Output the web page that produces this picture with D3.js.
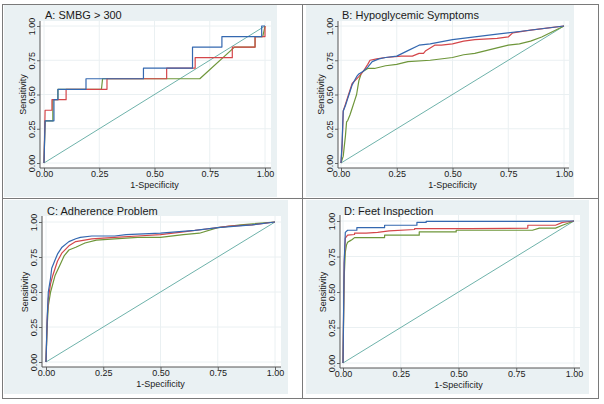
<!DOCTYPE html>
<html><head><meta charset="utf-8">
<script src="https://cdnjs.cloudflare.com/ajax/libs/d3/7.8.5/d3.min.js"></script>
<style>
html,body{margin:0;padding:0;background:#fff;}
svg{display:block;}
text{font-family:"Liberation Sans",Arial,Helvetica,sans-serif;fill:#1a1a1a;}
</style></head>
<body><svg id="c" width="604" height="404"></svg>
<script>
// ---------- DATA ----------
const tickValues = [0, 0.25, 0.5, 0.75, 1];
const titles = ["A: SMBG > 300", "B: Hypoglycemic Symptoms", "C: Adherence Problem", "D: Feet Inspection"];
const xAxisTitle = "1-Specificity";
const yAxisTitle = "Sensitivity";
const seriesNames = ["blue", "red", "green"];

// Panel A (step ROC curves: [1-specificity, sensitivity])
const aBlue = [[0,0],[0.005,0.308],[0.045,0.308],[0.045,0.462],[0.063,0.462],[0.063,0.538],[0.19,0.538],[0.19,0.615],[0.45,0.615],[0.45,0.692],[0.672,0.692],[0.672,0.846],[0.805,0.846],[0.805,0.923],[0.985,0.923],[0.985,1],[1,1]];
const aRed = [[0,0],[0.005,0.385],[0.036,0.385],[0.036,0.462],[0.10,0.462],[0.10,0.538],[0.285,0.538],[0.285,0.615],[0.555,0.615],[0.555,0.692],[0.684,0.692],[0.684,0.769],[0.852,0.769],[0.852,0.846],[0.955,0.846],[0.955,0.923],[1,0.923],[1,1]];
const aGreen = [[0,0],[0.005,0.308],[0.04,0.308],[0.04,0.462],[0.063,0.462],[0.063,0.538],[0.26,0.538],[0.265,0.615],[0.705,0.615],[0.862,0.846],[0.955,0.846],[0.955,0.923],[0.99,0.923],[1,1]];

// Panel B
const bBlue = [[0,0],[0.005,0.15],[0.01,0.38],[0.02,0.42],[0.03,0.47],[0.04,0.52],[0.05,0.57],[0.06,0.60],[0.07,0.63],[0.08,0.65],[0.10,0.67],[0.12,0.70],[0.14,0.74],[0.17,0.76],[0.20,0.77],[0.25,0.78],[0.30,0.82],[0.35,0.86],[0.40,0.87],[0.50,0.90],[0.60,0.92],[0.70,0.94],[0.80,0.96],[0.90,0.98],[1,1]];
const bRed = [[0,0],[0.005,0.12],[0.01,0.38],[0.02,0.43],[0.03,0.48],[0.05,0.58],[0.08,0.63],[0.10,0.67],[0.12,0.72],[0.13,0.75],[0.16,0.76],[0.20,0.77],[0.27,0.78],[0.32,0.78],[0.35,0.80],[0.37,0.80],[0.38,0.82],[0.40,0.84],[0.42,0.86],[0.45,0.86],[0.50,0.87],[0.55,0.89],[0.60,0.90],[0.70,0.91],[0.75,0.92],[0.77,0.95],[0.85,0.97],[0.95,0.99],[1,1]];
const bGreen = [[0,0],[0.01,0.05],[0.02,0.20],[0.025,0.30],[0.03,0.31],[0.04,0.35],[0.05,0.40],[0.06,0.45],[0.07,0.50],[0.075,0.55],[0.08,0.60],[0.09,0.65],[0.10,0.67],[0.12,0.69],[0.15,0.69],[0.20,0.71],[0.25,0.72],[0.30,0.74],[0.40,0.75],[0.50,0.77],[0.55,0.79],[0.60,0.80],[0.65,0.82],[0.70,0.84],[0.75,0.86],[0.80,0.87],[0.85,0.89],[0.90,0.92],[0.95,0.96],[1,1]];

// Panel C
const cBlue = [[0,0],[0.005,0.30],[0.01,0.50],[0.02,0.60],[0.025,0.67],[0.04,0.73],[0.05,0.77],[0.07,0.82],[0.10,0.86],[0.13,0.88],[0.15,0.89],[0.20,0.90],[0.30,0.90],[0.35,0.91],[0.50,0.92],[0.65,0.94],[0.75,0.96],[0.90,0.98],[1,1]];
const cRed = [[0,0],[0.005,0.30],[0.01,0.45],[0.02,0.56],[0.03,0.62],[0.05,0.72],[0.07,0.78],[0.10,0.83],[0.13,0.86],[0.20,0.88],[0.30,0.89],[0.40,0.90],[0.50,0.91],[0.60,0.93],[0.70,0.95],[0.80,0.97],[0.90,0.98],[1,1]];
const cGreen = [[0,0],[0.005,0.25],[0.01,0.40],[0.02,0.50],[0.03,0.56],[0.04,0.62],[0.06,0.69],[0.08,0.76],[0.10,0.80],[0.13,0.82],[0.17,0.85],[0.22,0.87],[0.30,0.88],[0.40,0.89],[0.50,0.89],[0.60,0.91],[0.67,0.92],[0.75,0.96],[0.85,0.98],[1,1]];

// Panel D
const dBlue = [[0,0],[0.005,0.70],[0.01,0.92],[0.02,0.935],[0.06,0.935],[0.06,0.953],[0.18,0.953],[0.18,0.97],[0.32,0.97],[0.32,0.99],[0.36,0.99],[0.36,0.998],[0.93,0.998],[0.95,1],[1,1]];
const dRed = [[0,0],[0.005,0.70],[0.01,0.88],[0.02,0.90],[0.05,0.905],[0.05,0.915],[0.10,0.915],[0.15,0.92],[0.20,0.93],[0.31,0.94],[0.31,0.946],[0.55,0.946],[0.80,0.95],[0.80,0.97],[0.92,0.97],[0.95,0.99],[1,1]];
const dGreen = [[0,0],[0.005,0.60],[0.01,0.78],[0.015,0.83],[0.02,0.85],[0.03,0.86],[0.04,0.87],[0.05,0.883],[0.18,0.883],[0.18,0.90],[0.33,0.90],[0.33,0.923],[0.49,0.923],[0.49,0.935],[0.82,0.935],[0.85,0.95],[0.92,0.95],[0.95,0.97],[1,1]];
const refLine = [[0,0],[1,1]];

// ---------- STYLE / LAYOUT ----------
const colors = {blue:"#3468b0", red:"#d4464a", green:"#6e963a", ref:"#5ea9a0"};
const layout = [
  {bg:[4,5,277,197], region:[40,21,271,168], xr:[44,265], yr:[163,26], titleY:19},
  {bg:[306,5,574,197], region:[338,21,569,168], xr:[341,564], yr:[163,26], titleY:19},
  {bg:[4,200,288,394], region:[42,216,281,367], xr:[46,275], yr:[362,222], titleY:215},
  {bg:[306,200,589,394], region:[340,215,580,368], xr:[343,574], yr:[363,221], titleY:215}
];
const panelData = [[aBlue,aRed,aGreen],[bBlue,bRed,bGreen],[cBlue,cRed,cGreen],[dBlue,dRed,dGreen]];

const svg = d3.select("#c");
svg.append("rect").attr("x",0).attr("y",0).attr("width",604).attr("height",404).attr("fill","#fff");

layout.forEach((L,i)=>{
  const g = svg.append("g");
  g.append("rect").attr("x",L.bg[0]).attr("y",L.bg[1]).attr("width",L.bg[2]-L.bg[0]).attr("height",L.bg[3]-L.bg[1]).attr("fill","#eaf1f3");
  const R = L.region;
  g.append("rect").attr("x",R[0]).attr("y",R[1]).attr("width",R[2]-R[0]).attr("height",R[3]-R[1]).attr("fill","#fff");
  const x = d3.scaleLinear().domain([0,1]).range(L.xr);
  const y = d3.scaleLinear().domain([0,1]).range(L.yr);
  // grid
  g.append("g").selectAll("line").data(tickValues).join("line")
    .attr("x1",R[0]).attr("x2",R[2]).attr("y1",d=>y(d)).attr("y2",d=>y(d))
    .attr("stroke","#eaf0f2").attr("stroke-width",1);
  g.append("g").selectAll("line").data(tickValues).join("line")
    .attr("y1",R[1]).attr("y2",R[3]).attr("x1",d=>x(d)).attr("x2",d=>x(d))
    .attr("stroke","#eaf0f2").attr("stroke-width",1);
  // axes
  const fmt = d3.format(".2f");
  const ya = g.append("g").attr("transform",`translate(${R[0]},0)`)
    .call(d3.axisLeft(y).tickValues(tickValues).tickFormat(fmt).tickSize(3).tickSizeOuter(0));
  ya.select(".domain").remove();
  ya.selectAll("line").attr("stroke","#666");
  ya.selectAll("text").attr("x",0).attr("y",-5).attr("dy",null)
    .attr("transform","rotate(-90)").attr("text-anchor","middle")
    .style("font-size","9px").style("font-family","'Liberation Sans',Arial,sans-serif").attr("fill","#1a1a1a");
  const xa = g.append("g").attr("transform",`translate(0,${R[3]})`)
    .call(d3.axisBottom(x).tickValues(tickValues).tickFormat(fmt).tickSize(3).tickSizeOuter(0));
  xa.select(".domain").remove();
  xa.selectAll("line").attr("stroke","#666");
  xa.selectAll("text").attr("y",9).attr("dy",null)
    .style("font-size","9px").style("font-family","'Liberation Sans',Arial,sans-serif").attr("fill","#1a1a1a");
  g.append("line").attr("x1",R[0]).attr("x2",R[0]).attr("y1",R[1]).attr("y2",R[3]).attr("stroke","#555").attr("stroke-width",1);
  g.append("line").attr("x1",R[0]).attr("x2",R[2]).attr("y1",R[3]).attr("y2",R[3]).attr("stroke","#555").attr("stroke-width",1);
  // axis titles
  g.append("text").attr("transform",`translate(${R[0]-14},${(L.yr[0]+L.yr[1])/2}) rotate(-90)`)
    .attr("text-anchor","middle").style("font-size","9px").text(yAxisTitle);
  g.append("text").attr("x",(L.xr[0]+L.xr[1])/2).attr("y",R[3]+20)
    .attr("text-anchor","middle").style("font-size","9px").text(xAxisTitle);
  // title
  g.append("text").attr("x",L.xr[0]+1).attr("y",L.titleY).style("font-size","11px").text(titles[i]);
  // lines
  const line = d3.line().x(d=>x(d[0])).y(d=>y(d[1]));
  g.append("path").datum(refLine).attr("d",line).attr("fill","none").attr("stroke",colors.ref).attr("stroke-width",0.9);
  [2,1,0].forEach(k=>{
    g.append("path").datum(panelData[i][k]).attr("d",line).attr("fill","none")
      .attr("stroke",colors[seriesNames[k]]).attr("stroke-width",1.2).attr("stroke-linejoin","round");
  });
});
// frame & dividers
svg.append("rect").attr("x",2.5).attr("y",4.5).attr("width",596).attr("height",394).attr("fill","none").attr("stroke","#7a7a7a").attr("stroke-width",1);
svg.append("line").attr("x1",302.5).attr("x2",302.5).attr("y1",4).attr("y2",399).attr("stroke","#7a7a7a");
svg.append("line").attr("x1",2).attr("x2",599).attr("y1",198.5).attr("y2",198.5).attr("stroke","#7a7a7a");
</script></body></html>
